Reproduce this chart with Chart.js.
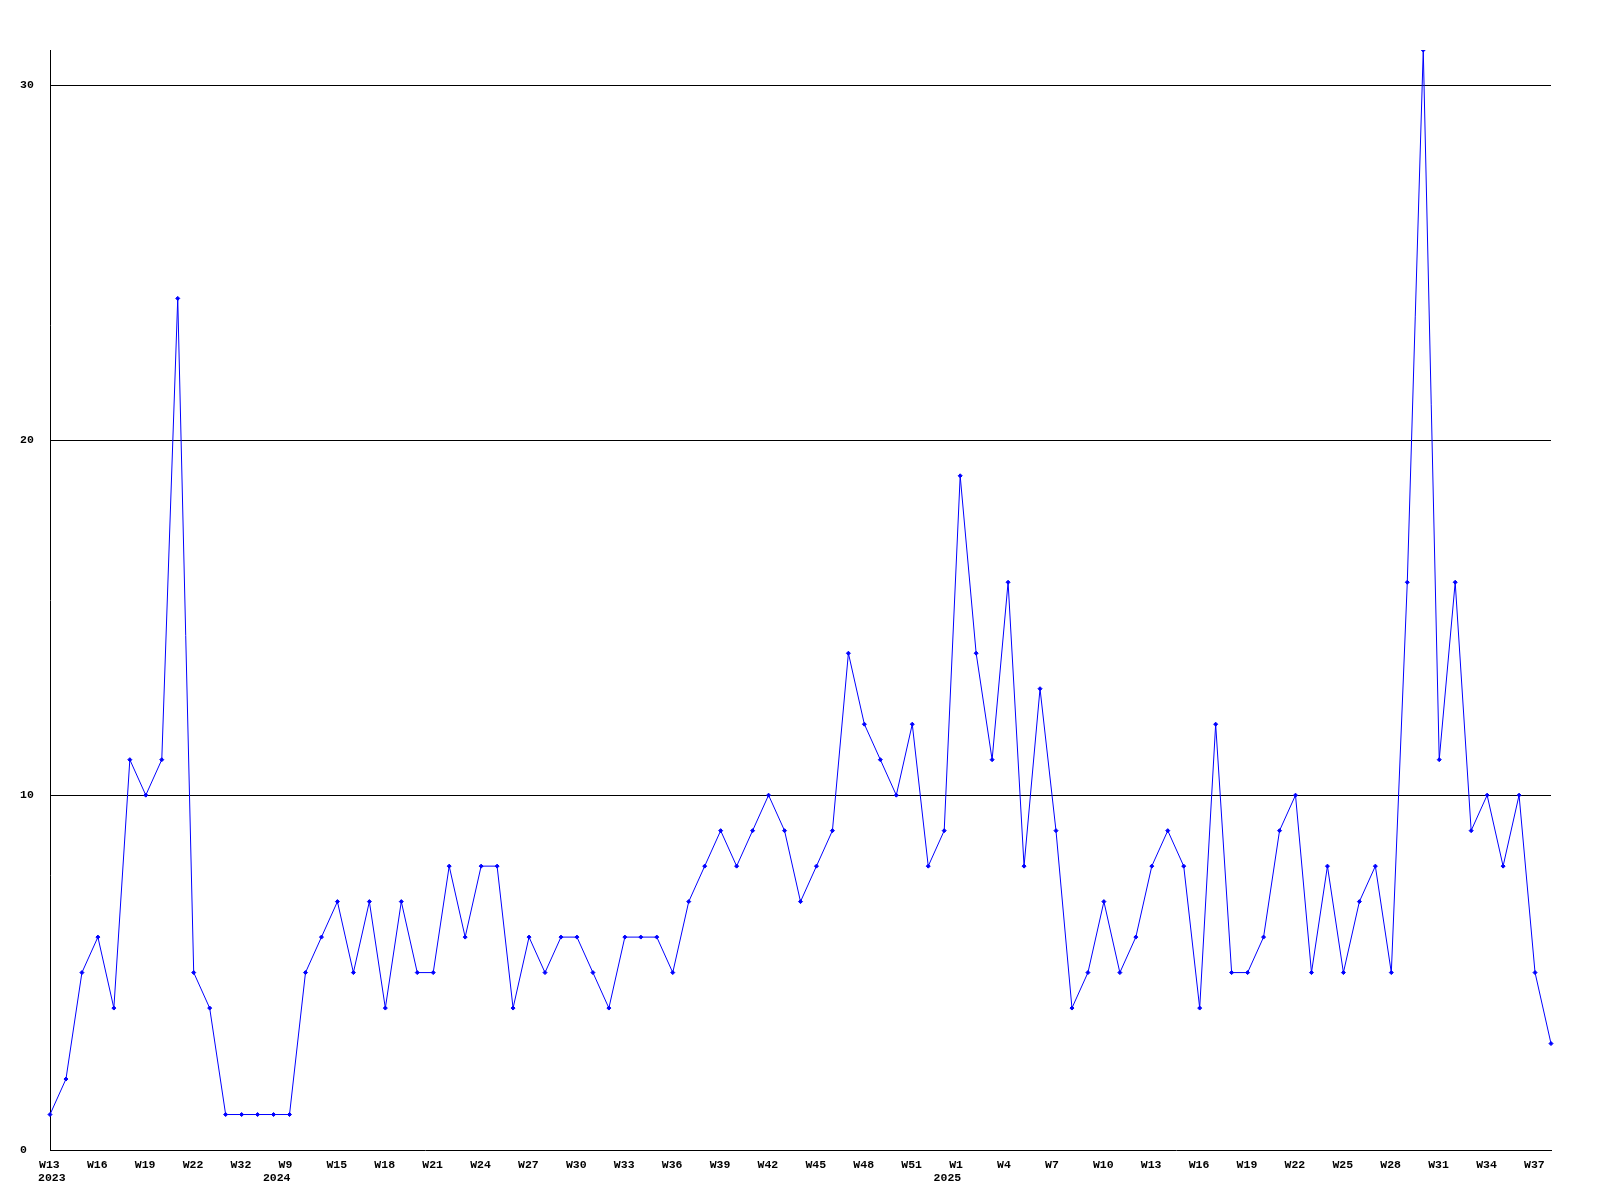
<!DOCTYPE html>
<html>
<head>
<meta charset="utf-8">
<script src="https://cdn.jsdelivr.net/npm/chart.js@4/dist/chart.umd.min.js"></script>
<style>
  html, body { margin: 0; padding: 0; background: #fff; }
  #wrap { width: 1600px; height: 1200px; }
</style>
</head>
<body>
<div id="wrap"><canvas id="chart" width="1600" height="1200"></canvas></div>
<script>
// week labels, one per point (only every third one is drawn on the axis)
const weeks = [
  "W13", "W14", "W15", "W16", "W17", "W18", "W19", "W20", "W21", "W22",
  "W23", "W31", "W32", "W33", "W8", "W9", "W10", "W12", "W15", "W16",
  "W17", "W18", "W19", "W20", "W21", "W22", "W23", "W24", "W25", "W26",
  "W27", "W28", "W29", "W30", "W31", "W32", "W33", "W34", "W35", "W36",
  "W37", "W38", "W39", "W40", "W41", "W42", "W43", "W44", "W45", "W46",
  "W47", "W48", "W49", "W50", "W51", "W52", "W52", "W1", "W2", "W3",
  "W4", "W5", "W6", "W7", "W8", "W9", "W10", "W11", "W12", "W13",
  "W14", "W15", "W16", "W17", "W18", "W19", "W20", "W21", "W22", "W23",
  "W24", "W25", "W26", "W27", "W28", "W29", "W30", "W31", "W32", "W33",
  "W34", "W35", "W36", "W37", "W38"
];

// year written under the first label of each year
const yearIndex = [0, 15, 57];
const yearText = ["2023", "2024", "2025"];

const counts = [
  1, 2, 5, 6, 4, 11, 10, 11, 24, 5,
  4, 1, 1, 1, 1, 1, 5, 6, 7, 5,
  7, 4, 7, 5, 5, 8, 6, 8, 8, 4,
  6, 5, 6, 6, 5, 4, 6, 6, 6, 5,
  7, 8, 9, 8, 9, 10, 9, 7, 8, 9,
  14, 12, 11, 10, 12, 8, 9, 19, 14, 11,
  16, 8, 13, 9, 4, 5, 7, 5, 6, 8,
  9, 8, 4, 12, 5, 5, 6, 9, 10, 5,
  8, 5, 7, 8, 5, 16, 31, 11, 16, 9,
  10, 8, 10, 5, 3
];

const yTicks = [0, 10, 20, 30];

const FONT_FAMILY = "'Liberation Mono', 'DejaVu Sans Mono', monospace";
const tickFont = { family: FONT_FAMILY, size: 11.5, weight: "bold", lineHeight: "14px" };

// year line under the week labels: right edge on the tick, never left of the first label
const yearLabels = {
  id: "yearLabels",
  afterDraw(chart) {
    const scale = chart.scales.x;
    const ctx = chart.ctx;
    ctx.save();
    ctx.font = `bold ${tickFont.size}px ${FONT_FAMILY}`;
    ctx.fillStyle = "#000";
    ctx.textAlign = "left";
    ctx.textBaseline = "alphabetic";
    yearIndex.forEach((idx, i) => {
      const txt = yearText[i];
      const w = ctx.measureText(txt).width;
      const left = Math.max(scale.getPixelForValue(idx) + 1 - w, chart.chartArea.left - 12);
      ctx.fillText(txt, left, scale.top + 31);
    });
    ctx.restore();
  },
};

new Chart(document.getElementById("chart"), {
  type: "line",
  data: {
    labels: weeks,
    datasets: [
      {
        data: counts,
        borderColor: "#0000ff",
        backgroundColor: "#0000ff",
        borderWidth: 1,
        pointStyle: "rectRot",
        pointRadius: 2,
        pointBorderWidth: 1,
        tension: 0,
        fill: false,
      },
    ],
  },
  options: {
    responsive: false,
    animation: false,
    devicePixelRatio: 1,
    layout: { padding: { left: 20, top: 50, right: 49, bottom: 0 } },
    scales: {
      x: {
        offset: false,
        grid: { display: false, drawTicks: false },
        border: { display: true, color: "#000", width: 1 },
        afterFit: (scale) => { scale.height = 50; },
        ticks: {
          autoSkip: false,
          maxRotation: 0,
          minRotation: 0,
          align: "start",
          labelOffset: -11,
          padding: 8,
          color: "#000",
          font: tickFont,
          callback: (value, index) => (index % 3 === 0 ? weeks[index] : ""),
        },
      },
      y: {
        min: 0,
        max: 31,
        afterFit: (scale) => { scale.width = 30; },
        afterBuildTicks: (scale) => { scale.ticks = yTicks.map((v) => ({ value: v })); },
        grid: {
          color: (ctx) => (ctx.tick && ctx.tick.value === 0 ? "rgba(0,0,0,0)" : "#000"),
          lineWidth: 1,
          drawTicks: false,
        },
        border: { display: true, color: "#000", width: 1 },
        ticks: {
          crossAlign: "far",
          padding: 0,
          color: "#000",
          font: tickFont,
          callback: (value) => String(value),
        },
      },
    },
    plugins: {
      legend: { display: false },
      tooltip: { enabled: false },
    },
  },
  plugins: [yearLabels],
});
</script>
</body>
</html>
